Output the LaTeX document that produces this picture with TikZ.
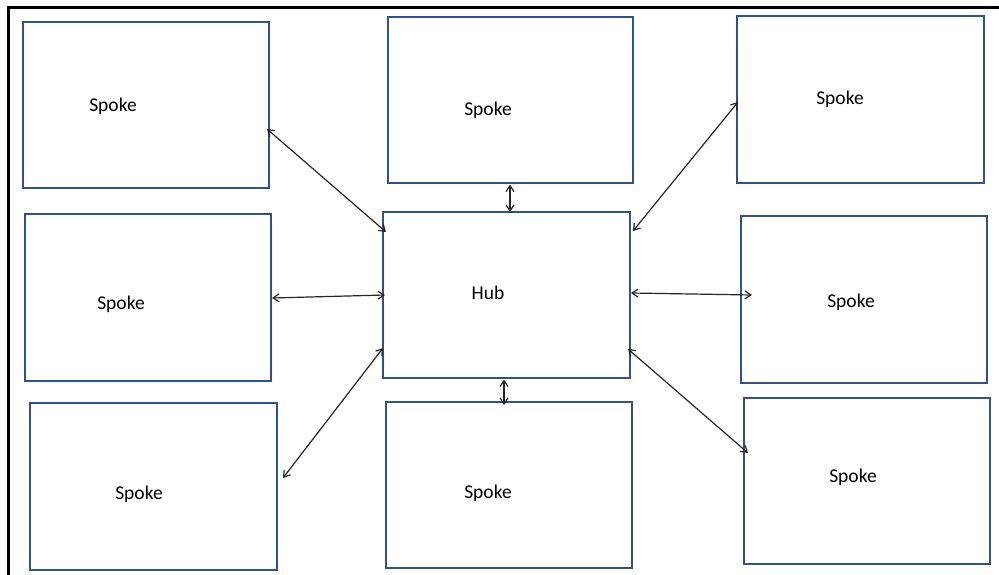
\documentclass[tikz,border=0pt]{standalone}
\usepackage{fontspec}
\setmainfont{Carlito}
\usetikzlibrary{arrows.meta,calc}
\definecolor{boxblue}{HTML}{2F528F}
\begin{document}
\begin{tikzpicture}[x=1pt,y=-1pt,
  box/.style={draw=boxblue,line width=2.8pt,rectangle,inner sep=0pt,outer sep=0pt,fill=white},
  lbl/.style={font=\fontsize{19.5}{21}\selectfont,inner sep=0pt,anchor=center},
  link/.style={draw=black!85,line width=1.2pt,{Straight Barb[length=6pt,width=8pt]}-{Straight Barb[length=6pt,width=8pt]}}]
\useasboundingbox[fill=white] (0,0) rectangle (999,575);
\draw[line width=3pt,black] (8,575) -- (8,8) -- (999,8);
% boxes
\node[box,minimum width=246pt,minimum height=166pt] (tl)  at (146,105)   {};
\node[box,minimum width=245pt,minimum height=166pt] (tc)  at (510.5,100) {};
\node[box,minimum width=247pt,minimum height=167pt] (tr)  at (860.5,99.5) {};
\node[box,minimum width=246pt,minimum height=167pt] (ml)  at (148,297.5) {};
\node[box,minimum width=247pt,minimum height=166pt] (hub) at (506.5,295) {};
\node[box,minimum width=246pt,minimum height=167pt] (mr)  at (864,299.5) {};
\node[box,minimum width=247pt,minimum height=167pt] (bl)  at (153.5,486.5) {};
\node[box,minimum width=246pt,minimum height=166pt] (bc)  at (509,485) {};
\node[box,minimum width=246pt,minimum height=166pt] (br)  at (867,481) {};
% labels
\node[lbl] (tlt)  at (113,106) {Spoke};
\node[lbl] (tct)  at (488,110) {Spoke};
\node[lbl] (trt)  at (840,99)  {Spoke};
\node[lbl] (mlt)  at (121,304) {Spoke};
\node[lbl] (hubt) at (488,293) {Hub};
\node[lbl] (mrt)  at (851,302) {Spoke};
\node[lbl] (blt)  at (139,494) {Spoke};
\node[lbl] (bct)  at (488,493) {Spoke};
\node[lbl] (brt)  at (853,477) {Spoke};
% connectors
\draw[link] ($(tl.east)+(-2,24)$) -- ($(hub.north west)+(3,20)$);
\draw[link] ($(tc.south)+(-0.5,1.5)$) -- ($(hub.north)+(3.5,0)$);
\draw[link] ($(tr.west)+(1,2.5)$) -- ($(hub.north east)+(3,19)$);
\draw[link] ($(ml.east)+(1,0.5)$) -- ($(hub.west)+(2,0)$);
\draw[link] ($(hub.east)+(1,-2)$) -- ($(mr.west)+(11,-4.5)$);
\draw[link] ($(bl.east)+(6,-8.5)$) -- ($(hub.south west)+(0,-30)$);
\draw[link] ($(hub.south)+(-2.5,1.5)$) -- ($(bc.north)+(-5,3)$);
\draw[link] ($(hub.south east)+(-2,-29)$) -- ($(br.west)+(4,-28)$);
\end{tikzpicture}
\end{document}
